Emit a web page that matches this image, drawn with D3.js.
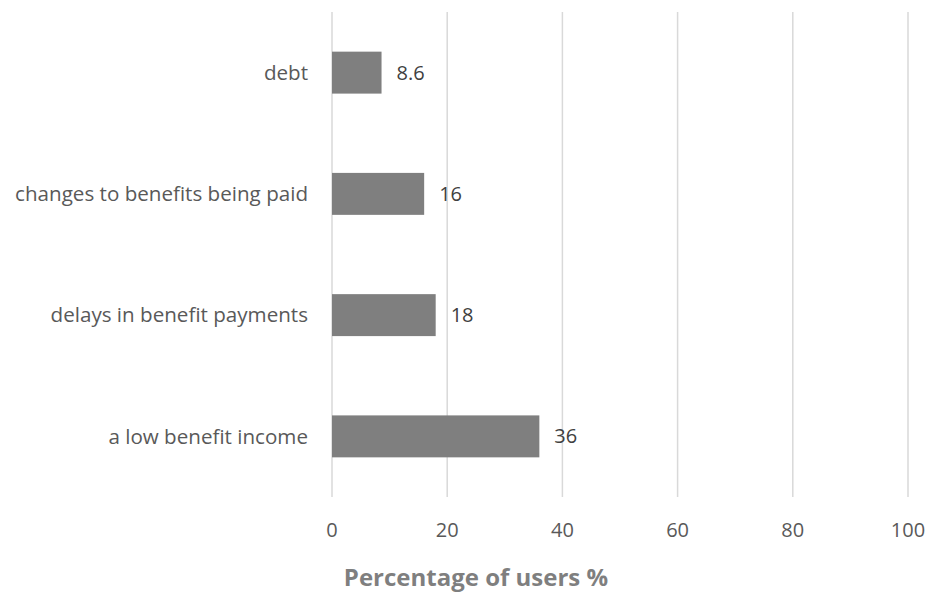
<!DOCTYPE html>
<html><head><meta charset="utf-8">
<script src="https://cdn.jsdelivr.net/npm/d3@7"></script>
<style>body{margin:0;background:#fff}svg{display:block}text{font-family:"Open Sans",sans-serif}</style>
</head><body>
<svg id="c" width="929" height="593"></svg>
<script>
const categories = ["debt","changes to benefits being paid","delays in benefit payments","a low benefit income"];
const values = [8.6, 16, 18, 36];
const valueLabels = ["8.6","16","18","36"];
const xTicks = [0,20,40,60,80,100];
const axisTitle = "Percentage of users %";

const svg = d3.select("#c");
const m = {left:332, right:21, top:12, bottom:96};
const W = 929, H = 593;
const x = d3.scaleLinear().domain([0,100]).range([m.left, W-m.right]);
const y = d3.scaleBand().domain(categories).range([m.top, H-m.bottom]).paddingInner(0.654).paddingOuter(0.327);

const g = svg.append("g");
g.selectAll("line.grid").data(xTicks).enter().append("line")
  .attr("x1",d=>x(d)).attr("x2",d=>x(d)).attr("y1",m.top).attr("y2",H-m.bottom)
  .attr("stroke","#d9d9d9").attr("stroke-width",1.5);

g.selectAll("rect.bar").data(values).enter().append("rect")
  .attr("x",x(0)).attr("y",(d,i)=>y(categories[i]))
  .attr("width",d=>x(d)-x(0)).attr("height",y.bandwidth())
  .attr("fill","#7f7f7f");

g.selectAll("text.val").data(values).enter().append("text")
  .attr("x",d=>x(d)+15).attr("y",(d,i)=>y(categories[i])+y.bandwidth()/2)
  .attr("dy","0.35em").attr("font-size",20).attr("fill","#404040")
  .text((d,i)=>valueLabels[i]);

g.selectAll("text.cat").data(categories).enter().append("text")
  .attr("x",x(0)-24).attr("y",d=>y(d)+y.bandwidth()/2)
  .attr("dy","0.35em").attr("text-anchor","end").attr("font-size",20.6).attr("fill","#595959")
  .text(d=>d);

g.selectAll("text.tick").data(xTicks).enter().append("text")
  .attr("x",d=>x(d)).attr("y",530).attr("dy","0.35em").attr("text-anchor","middle")
  .attr("font-size",20).attr("fill","#595959").text(d=>d);

svg.append("text").attr("x",476).attr("y",578).attr("dy","0.35em")
  .attr("text-anchor","middle").attr("font-size",24).attr("font-weight","bold").attr("fill","#7f7f7f")
  .text(axisTitle);
</script>
</body></html>
